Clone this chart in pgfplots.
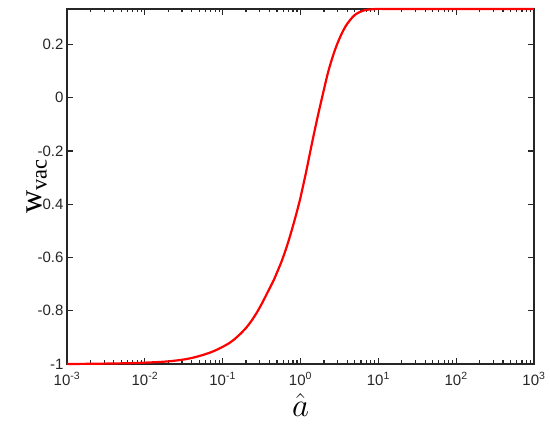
\RequirePackage{fix-cm}
\documentclass[border=0pt]{standalone}
\usepackage{pgfplots}
\pgfplotsset{compat=1.18}
\usepackage{fontspec}
\setmainfont{Liberation Sans}
\newfontfamily\tnr{Liberation Serif}
\begin{document}
\begin{tikzpicture}
\path[use as bounding box] (-67pt,-61pt) rectangle (483pt,364pt);
\begin{axis}[
  at={(0pt,0pt)}, anchor=south west,
  scale only axis, width=467pt, height=355pt,
  xmode=log, xmin=1e-3, xmax=1e3, ymin=-1, ymax=0.333333,
  xtick={1e-3,1e-2,1e-1,1,10,100,1000},
  xticklabels={10\textsuperscript{-3},10\textsuperscript{-2},10\textsuperscript{-1},10\textsuperscript{0},10\textsuperscript{1},10\textsuperscript{2},10\textsuperscript{3}},
  minor xtick={2e-3,3e-3,4e-3,5e-3,6e-3,7e-3,8e-3,9e-3,
               2e-2,3e-2,4e-2,5e-2,6e-2,7e-2,8e-2,9e-2,
               0.2,0.3,0.4,0.5,0.6,0.7,0.8,0.9,
               2,3,4,5,6,7,8,9,
               20,30,40,50,60,70,80,90,
               200,300,400,500,600,700,800,900},
  ytick={-1,-0.8,-0.6,-0.4,-0.2,0,0.2},
  yticklabels={-1,-0.8,-0.6,-0.4,-0.2,0,0.2},
  minor ytick={},
  tick align=inside,
  major tick length=6pt, minor tick length=3.5pt,
  axis line style={line width=1.5pt, black!85},
  every tick/.style={black!85, line width=1.2pt},
  ticklabel style={font=\fontsize{15}{18}\selectfont, text=black!85},
  xticklabel style={yshift=-5pt},
  xlabel={$\hat{a}$},
  xlabel style={font=\fontsize{33}{38}\selectfont, at={(axis description cs:0.5,-0.117)}, anchor=center},
  ylabel={{\tnr w}\textsubscript{\tnr vac}},
  ylabel style={font=\fontsize{32}{36}\selectfont, at={(axis description cs:-0.064,0.5)}, anchor=center},
  clip=false,
]
\addplot[red, line width=2.2pt, smooth, tension=0.7] table[x=a, y=w] {
a w
0.001 -1.000
0.003162 -0.9985
0.01 -0.995
0.02512 -0.987
0.05012 -0.970
0.09333 -0.940
0.1549 -0.897
0.2512 -0.825
0.4074 -0.712
0.5012 -0.655
0.6166 -0.588
0.7816 -0.492
1.0 -0.375
1.159 -0.290
1.483 -0.138
1.901 0.003
2.432 0.128
3.266 0.231
4.395 0.294
5.902 0.323
8.710 0.3328
15.85 0.33333
100 0.33333
1000 0.33333
};
\end{axis}
\end{tikzpicture}
\end{document}
